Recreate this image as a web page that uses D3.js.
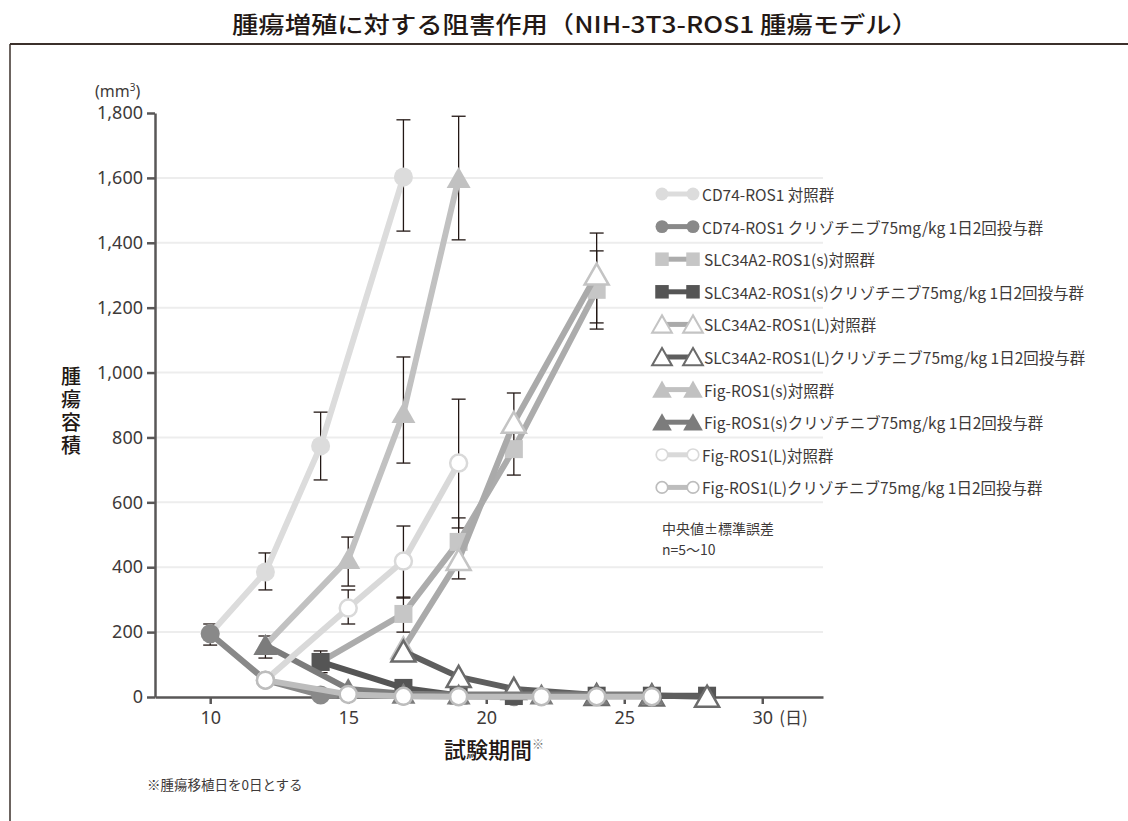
<!DOCTYPE html>
<html>
<head>
<meta charset="utf-8">
<script src="https://cdn.jsdelivr.net/npm/d3@7"></script>
<style>
  body { margin: 0; background: #fff; }
  svg { display: block; }
</style>
</head>
<body>
<svg id="chart" width="1128" height="821"></svg>
<script>
// ---- data (days after implantation, tumour volume in mm3) ----
const dayTicks = [10, 15, 20, 25, 30];
const volumeTicks = [0, 200, 400, 600, 800, 1000, 1200, 1400, 1600, 1800];
const gridValues = [200, 400, 600, 800, 1000, 1200, 1400, 1600];

const seriesNames = [
  "CD74-ROS1 対照群",
  "CD74-ROS1 クリゾチニブ75mg/kg 1日2回投与群",
  "SLC34A2-ROS1(s)対照群",
  "SLC34A2-ROS1(s)クリゾチニブ75mg/kg 1日2回投与群",
  "SLC34A2-ROS1(L)対照群",
  "SLC34A2-ROS1(L)クリゾチニブ75mg/kg 1日2回投与群",
  "Fig-ROS1(s)対照群",
  "Fig-ROS1(s)クリゾチニブ75mg/kg 1日2回投与群",
  "Fig-ROS1(L)対照群",
  "Fig-ROS1(L)クリゾチニブ75mg/kg 1日2回投与群"
];

const cd74CtrlDays = [10, 12, 14, 17];
const cd74CtrlVals = [195, 385, 774, 1603];
const cd74CtrlLow  = [null, 330, 669, 1436];
const cd74CtrlHigh = [null, 444, 878, 1779];

const cd74CrzDays = [10, 12, 14, 17, 19, 21];
const cd74CrzVals = [195, 52, 6, 3, 2, 1];
const cd74CrzLow  = [160, null, null, null, null, null];
const cd74CrzHigh = [225, null, null, null, null, null];

const slcSCtrlDays = [14, 17, 19, 21, 24];
const slcSCtrlVals = [108, 256, 478, 764, 1255];
const slcSCtrlLow  = [null, 200, 410, 684, 1134];
const slcSCtrlHigh = [null, 308, 552, 937, 1375];

const slcSCrzDays = [14, 17, 19, 21, 24, 26, 28];
const slcSCrzVals = [108, 28, 5, 3, 4, 4, 4];
const slcSCrzLow  = [75, null, null, null, null, null, null];
const slcSCrzHigh = [142, null, null, null, null, null, null];

const slcLCtrlDays = [17, 19, 21, 24];
const slcLCtrlVals = [150, 422, 845, 1302];
const slcLCtrlLow  = [null, 364, null, 1153];
const slcLCtrlHigh = [null, 480, null, 1430];

const slcLCrzDays = [17, 19, 21, 24, 26, 28];
const slcLCrzVals = [140, 62, 25, 6, 5, 1];

const figSCtrlDays = [12, 15, 17, 19];
const figSCtrlVals = [160, 425, 875, 1600];
const figSCtrlLow  = [120, 342, 721, 1409];
const figSCtrlHigh = [188, 493, 1048, 1790];

const figSCrzDays = [12, 15, 17, 19, 22, 24, 26];
const figSCrzVals = [160, 25, 10, 8, 8, 8, 8];

const figLCtrlDays = [12, 15, 17, 19];
const figLCtrlVals = [52, 274, 419, 721];
const figLCtrlLow  = [null, 225, 305, 521];
const figLCtrlHigh = [null, 330, 527, 918];

const figLCrzDays = [12, 15, 17, 19, 22, 24, 26];
const figLCrzVals = [52, 8, 2, 1, 1, 1, 1];

// ---- series table built from the arrays ----
function build(name, days, vals, low, high, style) {
  return {
    name,
    points: days.map((d, i) => ({
      day: d, v: vals[i],
      lo: low ? low[i] : null, hi: high ? high[i] : null
    })),
    ...style
  };
}

const series = [
  build(seriesNames[0], cd74CtrlDays, cd74CtrlVals, cd74CtrlLow, cd74CtrlHigh,
    { shape: "circle", open: false, line: "#dcdcdc", mark: "#dcdcdc" }),
  build(seriesNames[1], cd74CrzDays, cd74CrzVals, cd74CrzLow, cd74CrzHigh,
    { shape: "circle", open: false, line: "#898989", mark: "#898989" }),
  build(seriesNames[2], slcSCtrlDays, slcSCtrlVals, slcSCtrlLow, slcSCtrlHigh,
    { shape: "square", open: false, line: "#acacac", mark: "#c6c6c6" }),
  build(seriesNames[3], slcSCrzDays, slcSCrzVals, slcSCrzLow, slcSCrzHigh,
    { shape: "square", open: false, line: "#555555", mark: "#555555" }),
  build(seriesNames[4], slcLCtrlDays, slcLCtrlVals, slcLCtrlLow, slcLCtrlHigh,
    { shape: "triangle", open: true, line: "#aaaaaa", mark: "#c4c4c4" }),
  build(seriesNames[5], slcLCrzDays, slcLCrzVals, null, null,
    { shape: "triangle", open: true, line: "#5e5e5e", mark: "#6b6b6b" }),
  build(seriesNames[6], figSCtrlDays, figSCtrlVals, figSCtrlLow, figSCtrlHigh,
    { shape: "triangle", open: false, line: "#c1c1c1", mark: "#c1c1c1" }),
  build(seriesNames[7], figSCrzDays, figSCrzVals, null, null,
    { shape: "triangle", open: false, line: "#7c7c7c", mark: "#7c7c7c" }),
  build(seriesNames[8], figLCtrlDays, figLCtrlVals, figLCtrlLow, figLCtrlHigh,
    { shape: "circle", open: true, line: "#d9d9d9", mark: "#d9d9d9" }),
  build(seriesNames[9], figLCrzDays, figLCrzVals, null, null,
    { shape: "circle", open: true, line: "#bdbdbd", mark: "#bdbdbd" })
];

// ---- layout ----
const svg = d3.select("#chart");
const jpFont = "'Noto Sans CJK JP', 'Noto Sans', sans-serif";
const numFont = "'Noto Sans', 'Noto Sans CJK JP', sans-serif";
const ink = "#3e3a39";

const x = d3.scaleLinear().domain([8, 32.2]).range([155, 823]);
const y = d3.scaleLinear().domain([0, 1800]).range([697, 113]);

// title and frame
svg.append("text")
  .attr("x", 575).attr("y", 23)
  .attr("text-anchor", "middle").attr("dominant-baseline", "central")
  .attr("font-family", jpFont).attr("font-size", 23).attr("font-weight", 500)
  .attr("fill", "#231815")
  .attr("textLength", 686).attr("lengthAdjust", "spacingAndGlyphs")
  .text("腫瘍増殖に対する阻害作用（NIH-3T3-ROS1 腫瘍モデル）");

svg.append("line").attr("x1", 10).attr("x2", 1128).attr("y1", 44).attr("y2", 44)
  .attr("stroke", "#3b302b").attr("stroke-width", 2);
svg.append("line").attr("x1", 10).attr("x2", 10).attr("y1", 44).attr("y2", 821)
  .attr("stroke", "#3b302b").attr("stroke-width", 1.5);

// gridlines
svg.append("g").selectAll("line").data(gridValues).join("line")
  .attr("x1", x(8)).attr("x2", x(32.2))
  .attr("y1", d => y(d)).attr("y2", d => y(d))
  .attr("stroke", "#ededed").attr("stroke-width", 2);

// axes
const yAxis = svg.append("g").attr("transform", `translate(${x(8)},0)`)
  .call(d3.axisLeft(y).tickValues(volumeTicks).tickFormat(d3.format(","))
    .tickSize(8).tickSizeOuter(0).tickPadding(4));
const xAxis = svg.append("g").attr("transform", `translate(0,${y(0)})`)
  .call(d3.axisBottom(x).tickValues(dayTicks).tickSize(7).tickSizeOuter(0).tickPadding(7));

[yAxis, xAxis].forEach(g => {
  g.select(".domain").attr("stroke", "#595757").attr("stroke-width", 2.5);
  g.selectAll(".tick line").attr("stroke", "#595757").attr("stroke-width", 2.5);
  g.selectAll(".tick text").attr("font-family", numFont).attr("font-size", 18)
    .attr("fill", ink);
});

svg.append("text")
  .attr("x", x(30) + 17).attr("y", y(0) + 27)
  .attr("font-family", jpFont).attr("font-size", 17).attr("fill", ink)
  .text("(日)");

const unit = svg.append("text")
  .attr("x", 95).attr("y", 97)
  .attr("font-family", numFont).attr("font-size", 16).attr("fill", ink);
unit.append("tspan").text("(mm");
unit.append("tspan").attr("dy", -6).attr("font-size", 10).text("3");
unit.append("tspan").attr("dy", 6).text(")");

// y axis title, set vertically
svg.append("text")
  .attr("x", 71).attr("y", 366)
  .style("writing-mode", "vertical-rl")
  .style("letter-spacing", "3px")
  .attr("font-family", jpFont).attr("font-size", 20).attr("font-weight", 500)
  .attr("fill", "#231815")
  .text("腫瘍容積");

// x axis title and footnote
const xTitle = svg.append("text")
  .attr("x", 494).attr("y", 758).attr("text-anchor", "middle")
  .attr("font-family", jpFont).attr("font-size", 22).attr("font-weight", 500)
  .attr("fill", "#231815");
xTitle.append("tspan").text("試験期間");
xTitle.append("tspan").attr("font-size", 12).attr("dy", -9).attr("fill", "#777").text("※");

svg.append("text")
  .attr("x", 147).attr("y", 790)
  .attr("font-family", jpFont).attr("font-size", 13.5).attr("fill", ink)
  .text("※腫瘍移植日を0日とする");

// ---- marker helper ----
function drawMarker(g, s, cx, cy, scale) {
  const k = scale || 1;
  const sw = 2.5 * k;
  if (s.shape === "circle") {
    const r = (s.open ? 8.5 : 9.5) * k;
    g.append("circle").attr("cx", cx).attr("cy", cy).attr("r", r)
      .attr("fill", s.open ? "#fff" : s.mark)
      .attr("stroke", s.open ? s.mark : "none").attr("stroke-width", sw);
  } else if (s.shape === "square") {
    const h = 9 * k;
    g.append("rect").attr("x", cx - h).attr("y", cy - h)
      .attr("width", 2 * h).attr("height", 2 * h)
      .attr("fill", s.mark);
  } else {
    const w = 12 * k, hh = 11 * k;
    const p = d3.path();
    p.moveTo(cx, cy - hh); p.lineTo(cx + w, cy + hh - 1 * k); p.lineTo(cx - w, cy + hh - 1 * k); p.closePath();
    g.append("path").attr("d", p.toString())
      .attr("fill", s.open ? "#fff" : s.mark)
      .attr("stroke", s.open ? s.mark : "none").attr("stroke-width", sw)
      .attr("stroke-linejoin", "miter");
  }
}

// ---- error bars (beneath lines and markers) ----
const errG = svg.append("g");
series.forEach(s => {
  s.points.filter(p => p.lo != null).forEach(p => {
    const cx = x(p.day);
    errG.append("line").attr("x1", cx).attr("x2", cx)
      .attr("y1", y(p.lo)).attr("y2", y(p.hi))
      .attr("stroke", "#231815").attr("stroke-width", 1.3);
    [p.lo, p.hi].forEach(v => {
      errG.append("line").attr("x1", cx - 7).attr("x2", cx + 7)
        .attr("y1", y(v)).attr("y2", y(v))
        .attr("stroke", "#231815").attr("stroke-width", 1.3);
    });
  });
});

// ---- series lines and markers ----
const lineGen = d3.line().x(p => x(p.day)).y(p => y(p.v));
series.forEach(s => {
  const g = svg.append("g");
  g.append("path").datum(s.points).attr("d", lineGen)
    .attr("fill", "none").attr("stroke", s.line).attr("stroke-width", 6)
    .attr("stroke-linejoin", "round");
  s.points.forEach(p => drawMarker(g, s, x(p.day), y(p.v), 1));
});

// ---- legend ----
const legend = svg.append("g");
series.forEach((s, i) => {
  const cy = 194 + i * 32.6;
  const g = legend.append("g");
  const x0 = 662, x1 = 693;
  g.append("line").attr("x1", x0).attr("x2", x1).attr("y1", cy).attr("y2", cy)
    .attr("stroke", s.line).attr("stroke-width", 5);
  const k = s.shape === "circle" ? 0.68 : (s.shape === "square" ? 0.75 : 0.82);
  drawMarker(g, s, x0, cy, k);
  drawMarker(g, s, x1, cy, k);
  g.append("text")
    .attr("x", s.shape === "circle" ? 702 : 704).attr("y", cy)
    .attr("dominant-baseline", "central")
    .attr("font-family", jpFont).attr("font-size", 15.5).attr("fill", ink)
    .text(s.name);
});

// note about statistics
svg.append("text").attr("x", 662).attr("y", 528).attr("dominant-baseline", "central")
  .attr("font-family", jpFont).attr("font-size", 14).attr("fill", ink)
  .text("中央値±標準誤差");
svg.append("text").attr("x", 662).attr("y", 549).attr("dominant-baseline", "central")
  .attr("font-family", jpFont).attr("font-size", 14).attr("fill", ink)
  .text("n=5〜10");
</script>
</body>
</html>
